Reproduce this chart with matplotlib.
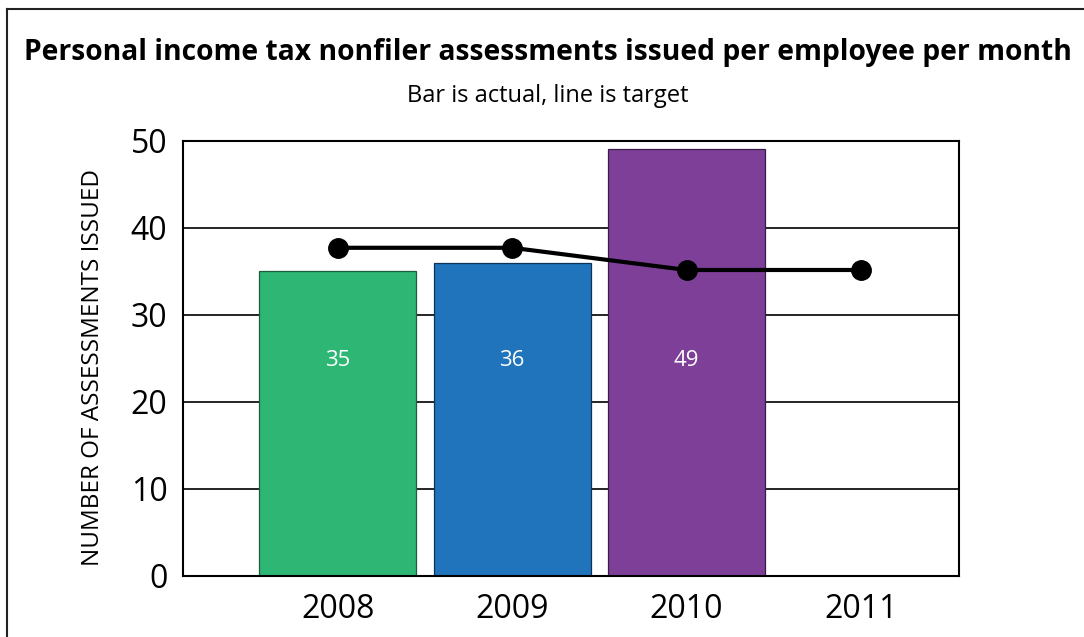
import numpy as np
import matplotlib.pyplot as plt
from matplotlib.lines import Line2D

plt.rcParams['font.family'] = ['Open Sans', 'DejaVu Sans']

years = ['2008', '2009', '2010', '2011']
actual = [35, 36, 49]
target = [37.7, 37.7, 35.15, 35.15]
bar_colors = ['#2db674', '#1f74bc', '#7e3f98']
edge_colors = ['#1d5c3c', '#0d3357', '#3a1d47']
yticks = [0, 10, 20, 30, 40, 50]

fig = plt.figure(figsize=(10.84, 6.37), dpi=100)
ax = fig.add_axes([0.1686, 0.0958, 0.7161, 0.6833])

x = np.arange(len(years))

# gridlines behind everything
for v in yticks[1:-1]:
    ax.axhline(v, color='black', lw=1.2, zorder=1)

ax.bar(x[:len(actual)], actual, width=0.9, color=bar_colors,
       edgecolor=edge_colors, linewidth=0.9, zorder=2)
for xi, v in zip(x, actual):
    ax.text(xi, 24.7, str(v), color='white', ha='center', va='center',
            fontsize=16, zorder=3)

ax.plot(x, target, color='black', lw=3, marker='o', markersize=14, zorder=4)

ax.set_xlim(-0.889, 3.5625)
ax.set_ylim(0, 50)
ax.set_xticks(x)
ax.set_xticklabels(years)
ax.set_yticks(yticks)
ax.tick_params(axis='both', length=0, labelsize=23, pad=11)
ax.tick_params(axis='x', pad=12)
for s in ax.spines.values():
    s.set_linewidth(1.5)
    s.set_color('black')
ax.set_ylabel('NUMBER OF ASSESSMENTS ISSUED', fontsize=17.5)
ax.yaxis.set_label_coords(-0.1, 0.478)

fig.text(0.5055, 0.918, 'Personal income tax nonfiler assessments issued per employee per month',
         ha='center', va='center', fontsize=20.3, fontweight='bold')
fig.text(0.5055, 0.849, 'Bar is actual, line is target', ha='center', va='center', fontsize=17)

# outer frame: only top and left edges fall inside the canvas
fig.add_artist(Line2D([7 / 1084, 1], [1 - 9 / 637, 1 - 9 / 637], transform=fig.transFigure,
                      color='#222222', lw=1.5))
fig.add_artist(Line2D([7 / 1084, 7 / 1084], [0, 1 - 9 / 637], transform=fig.transFigure,
                      color='#222222', lw=1.5))

fig.savefig('out.png', dpi=100)
